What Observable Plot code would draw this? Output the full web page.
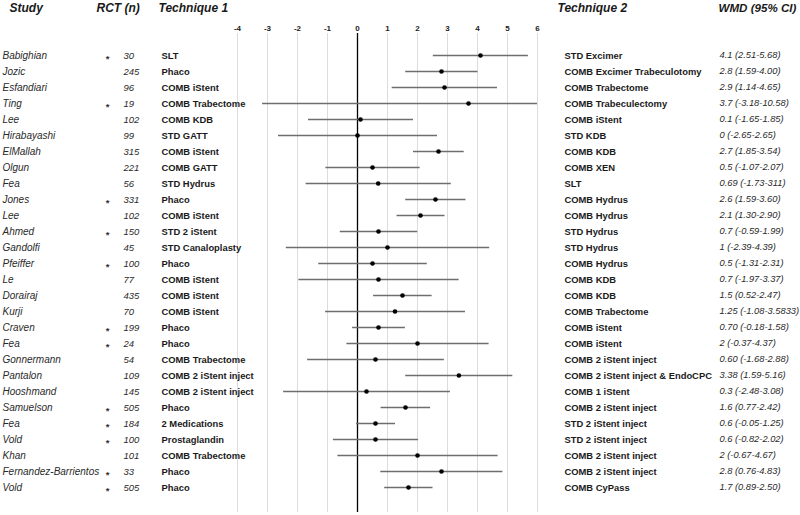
<!DOCTYPE html>
<html>
<head>
<meta charset="utf-8">
<script src="https://cdn.jsdelivr.net/npm/d3@7"></script>
<script src="https://cdn.jsdelivr.net/npm/@observablehq/plot@0.6"></script>
<style>
  html, body { margin: 0; padding: 0; background: #fff; }
</style>
</head>
<body>
<div id="chart"></div>
<script>
const study = ["Babighian","Jozic","Esfandiari","Ting","Lee","Hirabayashi","ElMallah","Olgun","Fea","Jones","Lee","Ahmed","Gandolfi","Pfeiffer","Le","Dorairaj","Kurji","Craven","Fea","Gonnermann","Pantalon","Hooshmand","Samuelson","Fea","Vold","Khan","Fernandez-Barrientos","Vold"];
const rct = ["*","","","*","","","","","","*","","*","","*","","","","*","*","","","","*","*","*","","*","*"];
const nPatients = ["30","245","96","19","102","99","315","221","56","331","102","150","45","100","77","435","70","199","24","54","109","145","505","184","100","101","33","505"];
const technique1 = ["SLT","Phaco","COMB iStent","COMB Trabectome","COMB KDB","STD GATT","COMB iStent","COMB GATT","STD Hydrus","Phaco","COMB iStent","STD 2 iStent","STD Canaloplasty","Phaco","COMB iStent","COMB iStent","COMB iStent","Phaco","Phaco","COMB Trabectome","COMB 2 iStent inject","COMB 2 iStent inject","Phaco","2 Medications","Prostaglandin","COMB Trabectome","Phaco","Phaco"];
const technique2 = ["STD Excimer","COMB Excimer Trabeculotomy","COMB Trabectome","COMB Trabeculectomy","COMB iStent","STD KDB","COMB KDB","COMB XEN","SLT","COMB Hydrus","COMB Hydrus","STD Hydrus","STD Hydrus","COMB Hydrus","COMB KDB","COMB KDB","COMB Trabectome","COMB iStent","COMB iStent","COMB 2 iStent inject","COMB 2 iStent inject & EndoCPC","COMB 1 iStent","COMB 2 iStent inject","STD 2 iStent inject","STD 2 iStent inject","COMB 2 iStent inject","COMB 2 iStent inject","COMB CyPass"];
const wmd = [4.1,2.8,2.9,3.7,0.1,0,2.7,0.5,0.69,2.6,2.1,0.7,1,0.5,0.7,1.5,1.25,0.70,2,0.60,3.38,0.3,1.6,0.6,0.6,2,2.8,1.7];
const ciLow = [2.51,1.59,1.14,-3.18,-1.65,-2.65,1.85,-1.07,-1.73,1.59,1.30,-0.59,-2.39,-1.31,-1.97,0.52,-1.08,-0.18,-0.37,-1.68,1.59,-2.48,0.77,-0.05,-0.82,-0.67,0.76,0.89];
const ciHigh = [5.68,4.00,4.65,10.58,1.85,2.65,3.54,2.07,3.11,3.60,2.90,1.99,4.39,2.31,3.37,2.47,3.5833,1.58,4.37,2.88,5.16,3.08,2.42,1.25,2.02,4.67,4.83,2.50];
const wmdLabel = ["4.1 (2.51-5.68)","2.8 (1.59-4.00)","2.9 (1.14-4.65)","3.7 (-3.18-10.58)","0.1 (-1.65-1.85)","0 (-2.65-2.65)","2.7 (1.85-3.54)","0.5 (-1.07-2.07)","0.69 (-1.73-311)","2.6 (1.59-3.60)","2.1 (1.30-2.90)","0.7 (-0.59-1.99)","1 (-2.39-4.39)","0.5 (-1.31-2.31)","0.7 (-1.97-3.37)","1.5 (0.52-2.47)","1.25 (-1.08-3.5833)","0.70 (-0.18-1.58)","2 (-0.37-4.37)","0.60 (-1.68-2.88)","3.38 (1.59-5.16)","0.3 (-2.48-3.08)","1.6 (0.77-2.42)","0.6 (-0.05-1.25)","0.6 (-0.82-2.02)","2 (-0.67-4.67)","2.8 (0.76-4.83)","1.7 (0.89-2.50)"];
const xTicks = [-4,-3,-2,-1,0,1,2,3,4,5,6];
const headers = ["Study","RCT (n)","Technique 1","Technique 2","WMD (95% CI)"];

const rows = study.map((s, i) => ({
  i, study: s, rct: rct[i], n: nPatients[i], t1: technique1[i], t2: technique2[i],
  wmd: wmd[i], lo: ciLow[i], hi: ciHigh[i], label: wmdLabel[i]
}));

const txt = "#1a1a1a";
const headerStyle = {fontWeight: "bold", fontStyle: "italic", fontSize: 12, fill: txt, textAnchor: "start", lineAnchor: "middle", dy: -25};
const chart = Plot.plot({
  width: 800,
  height: 515,
  marginLeft: 237,
  marginRight: 263,
  marginTop: 33,
  marginBottom: 3,
  style: {fontFamily: "'Liberation Sans', Arial, sans-serif", background: "#fff", color: txt},
  x: {domain: [-4, 6]},
  y: {type: "point", domain: rows.map(d => d.i), padding: 0.99, insetBottom: 2.4, axis: null},
  marks: [
    Plot.gridX(xTicks, {stroke: "#dcdcdc", strokeOpacity: 1, strokeWidth: 1}),
    Plot.ruleX([0], {stroke: "#000", strokeWidth: 1.3}),
    Plot.axisX(xTicks, {anchor: "top", tickSize: 0, tickPadding: 3, fontSize: 8, fontWeight: "bold", fill: "#222", label: null, tickFormat: d => String(d)}),
    Plot.link(rows, {x1: "lo", x2: "hi", y1: "i", y2: "i", stroke: "#6e6e6e", strokeWidth: 1.6, clip: true}),
    Plot.dot(rows, {x: "wmd", y: "i", r: 2.3, fill: "#000", stroke: "none"}),
    // left text columns
    Plot.text(rows, {y: "i", text: "study", frameAnchor: "left", dx: -235, textAnchor: "start", fontStyle: "italic", fontSize: 10, fill: "#2a2a2a"}),
    Plot.text(rows, {y: "i", text: "rct", frameAnchor: "left", dx: -130, dy: 3, textAnchor: "middle", fontSize: 9.5, fontWeight: "bold", fill: "#333"}),
    Plot.text(rows, {y: "i", text: "n", frameAnchor: "left", dx: -114, textAnchor: "start", fontStyle: "italic", fontSize: 9.5, fill: "#2a2a2a"}),
    Plot.text(rows, {y: "i", text: "t1", frameAnchor: "left", dx: -76, textAnchor: "start", fontWeight: "bold", fontSize: 9.4, fill: txt}),
    // right text columns
    Plot.text(rows, {y: "i", text: "t2", frameAnchor: "right", dx: 27, textAnchor: "start", fontWeight: "bold", fontSize: 9.4, fill: txt}),
    Plot.text(rows, {y: "i", text: "label", frameAnchor: "right", dx: 182, textAnchor: "start", fontStyle: "italic", fontSize: 9.3, fill: "#2a2a2a"}),
    // headers
    Plot.text([headers[0]], {...headerStyle, text: d => d, frameAnchor: "top-left", dx: -228}),
    Plot.text([headers[1]], {...headerStyle, text: d => d, frameAnchor: "top-left", dx: -141}),
    Plot.text([headers[2]], {...headerStyle, text: d => d, frameAnchor: "top-left", dx: -79}),
    Plot.text([headers[3]], {...headerStyle, text: d => d, frameAnchor: "top-right", dx: 20}),
    Plot.text([headers[4]], {...headerStyle, fontSize: 11.6, text: d => d, frameAnchor: "top-right", dx: 181})
  ]
});
document.getElementById("chart").appendChild(chart);
</script>
</body>
</html>
